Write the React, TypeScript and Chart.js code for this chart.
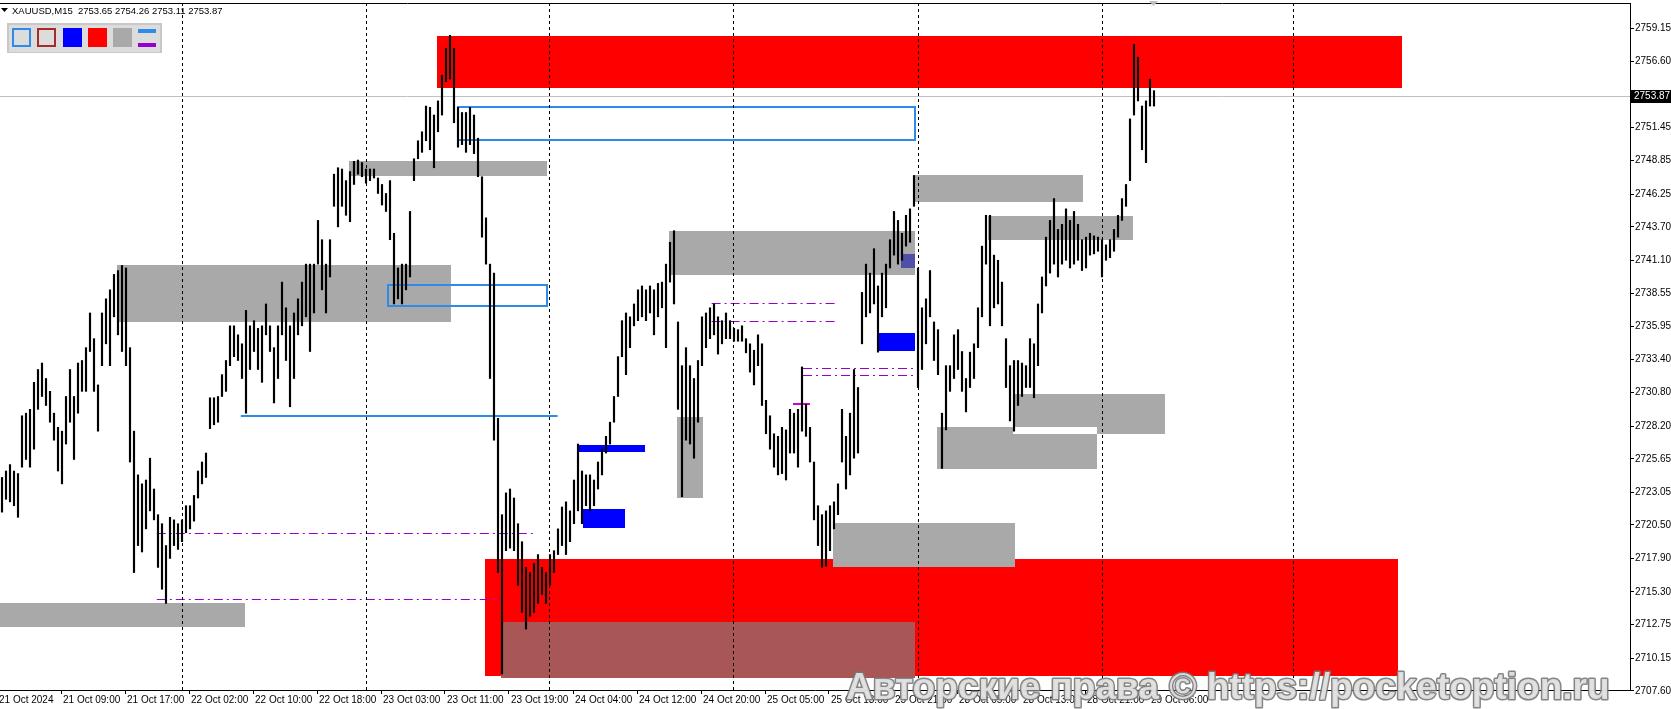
import React, { useEffect, useRef } from 'react';
import { Chart, registerables } from 'chart.js';

Chart.register(...registerables);

// ---- price data: one entry per 30 minutes (high / low) ----
const highs: number[] = [
  2724.2, 2724.7, 2725.2, 2724.7, 2724.5, 2729.0, 2729.2, 2729.5, 2731.6, 2732.6,
  2733.1, 2731.9, 2730.9, 2729.2, 2728.1, 2727.8, 2730.5, 2732.6, 2730.5, 2733.1,
  2733.3, 2734.3, 2737.0, 2735.0, 2731.4, 2737.0, 2738.1, 2738.8, 2740.0, 2740.3,
  2740.7, 2740.5, 2734.3, 2727.8, 2724.4, 2723.7, 2724.0, 2725.7, 2723.3, 2721.3,
  2720.6, 2718.9, 2721.1, 2720.9, 2720.6, 2720.9, 2722.0, 2722.0, 2722.8, 2724.7,
  2725.4, 2726.1, 2730.4, 2730.4, 2730.5, 2732.2, 2733.3, 2736.0, 2736.0, 2735.3,
  2734.6, 2737.2, 2736.0, 2736.4, 2735.8, 2736.0, 2737.7, 2736.0, 2734.3, 2736.0,
  2739.4, 2737.4, 2736.0, 2737.0, 2738.1, 2739.4, 2740.8, 2740.8, 2740.8, 2744.2,
  2742.7, 2740.8, 2742.7, 2747.8, 2748.3, 2748.2, 2747.3, 2748.0, 2748.8, 2748.9,
  2748.7, 2748.2, 2748.2, 2748.2, 2747.5, 2747.0, 2746.3, 2747.3, 2743.2, 2740.5,
  2740.8, 2740.8, 2744.9, 2749.0, 2750.4, 2751.1, 2753.1, 2753.0, 2752.4, 2753.5,
  2755.5, 2757.6, 2758.6, 2757.6, 2753.0, 2752.6, 2752.6, 2753.0, 2752.4, 2750.6,
  2747.6, 2744.4, 2740.8, 2740.1, 2728.8, 2721.3, 2723.0, 2723.3, 2722.6, 2720.6,
  2719.2, 2717.2, 2716.8, 2717.5, 2718.2, 2717.2, 2716.8, 2718.2, 2718.5, 2720.2,
  2721.9, 2722.3, 2721.6, 2724.0, 2726.8, 2724.7, 2724.4, 2724.4, 2724.0, 2725.4,
  2726.4, 2727.4, 2728.5, 2730.5, 2733.6, 2736.4, 2737.0, 2736.7, 2737.7, 2738.8,
  2739.1, 2738.8, 2739.1, 2738.8, 2739.3, 2739.4, 2740.8, 2742.5, 2743.4, 2736.3,
  2732.9, 2734.3, 2732.9, 2731.9, 2733.3, 2736.7, 2737.0, 2737.4, 2737.7, 2736.7,
  2736.4, 2737.0, 2736.4, 2735.8, 2735.7, 2736.0, 2735.0, 2734.6, 2734.1, 2735.3,
  2734.6, 2730.2, 2729.0, 2727.6, 2727.4, 2728.1, 2727.9, 2729.5, 2729.2, 2729.5,
  2732.8, 2729.9, 2728.1, 2725.4, 2722.0, 2721.3, 2721.6, 2722.0, 2722.3, 2723.7,
  2729.5, 2727.4, 2729.2, 2732.6, 2731.2, 2738.6, 2740.8, 2740.1, 2742.0, 2739.1,
  2740.1, 2740.8, 2742.7, 2744.9, 2744.2, 2743.2, 2744.6, 2745.1, 2747.7, 2740.5,
  2737.4, 2738.1, 2740.3, 2736.3, 2735.7, 2729.2, 2732.9, 2732.9, 2735.3, 2735.7,
  2734.0, 2731.9, 2733.95, 2734.6, 2737.4, 2742.2, 2744.6, 2744.6, 2741.5, 2741.1,
  2739.4, 2735.0, 2732.9, 2733.3, 2733.3, 2733.1, 2732.9, 2735.0, 2734.6, 2737.7,
  2739.8, 2742.9, 2744.2, 2745.9, 2743.5, 2743.9, 2745.1, 2744.2, 2744.9, 2743.9,
  2742.7, 2742.9, 2743.2, 2743.0, 2742.9, 2742.7, 2742.3, 2742.7, 2743.5, 2744.6,
  2745.9, 2747.0, 2752.1, 2757.9, 2756.9, 2753.1, 2753.5, 2755.2, 2754.3,
];
const lows: number[] = [
  2721.5, 2722.5, 2722.3, 2722.0, 2721.1, 2725.0, 2725.6, 2725.0, 2726.4, 2729.5,
  2730.5, 2729.8, 2728.5, 2727.1, 2724.7, 2723.7, 2726.8, 2728.5, 2725.6, 2729.2,
  2730.9, 2730.9, 2734.0, 2730.9, 2727.8, 2732.9, 2734.6, 2732.9, 2736.7, 2735.3,
  2734.0, 2732.9, 2725.4, 2716.8, 2718.9, 2718.4, 2720.2, 2721.6, 2720.9, 2717.2,
  2715.5, 2714.4, 2717.9, 2718.9, 2718.6, 2719.2, 2719.9, 2720.2, 2720.8, 2722.6,
  2723.7, 2724.2, 2728.0, 2728.3, 2728.5, 2730.5, 2730.9, 2732.9, 2733.6, 2733.3,
  2731.9, 2729.2, 2732.6, 2734.0, 2732.6, 2731.6, 2735.3, 2734.0, 2730.0, 2731.9,
  2735.3, 2733.3, 2729.7, 2731.9, 2735.3, 2736.0, 2736.7, 2734.0, 2737.0, 2740.8,
  2738.8, 2737.0, 2739.8, 2745.3, 2743.7, 2745.3, 2744.6, 2744.1, 2747.0, 2747.8,
  2747.6, 2747.1, 2747.3, 2747.5, 2746.3, 2745.4, 2744.9, 2742.7, 2737.7, 2738.1,
  2737.7, 2738.8, 2739.8, 2747.3, 2749.0, 2749.5, 2750.4, 2749.7, 2748.3, 2751.1,
  2752.4, 2755.0, 2755.2, 2751.8, 2749.9, 2750.1, 2749.5, 2750.1, 2749.4, 2747.6,
  2742.9, 2740.8, 2731.9, 2727.1, 2716.8, 2708.9, 2718.5, 2718.7, 2718.5, 2715.8,
  2713.7, 2712.4, 2713.4, 2713.7, 2714.4, 2715.1, 2714.4, 2715.8, 2716.8, 2718.2,
  2718.9, 2718.2, 2719.2, 2720.6, 2721.6, 2720.6, 2722.0, 2721.6, 2722.0, 2723.3,
  2724.4, 2726.1, 2726.8, 2728.5, 2730.5, 2733.6, 2732.2, 2734.3, 2736.0, 2736.4,
  2736.7, 2736.4, 2737.0, 2735.3, 2736.7, 2737.4, 2734.3, 2739.4, 2737.7, 2729.5,
  2722.7, 2727.1, 2726.8, 2725.7, 2728.5, 2732.9, 2734.3, 2735.0, 2735.3, 2733.8,
  2734.6, 2735.0, 2735.0, 2734.8, 2734.8, 2734.8, 2733.9, 2732.4, 2731.4, 2732.9,
  2729.8, 2727.6, 2726.4, 2725.0, 2724.4, 2724.5, 2724.0, 2726.1, 2726.1, 2725.0,
  2727.8, 2727.4, 2725.4, 2720.9, 2718.9, 2717.2, 2717.3, 2718.5, 2720.2, 2721.3,
  2725.4, 2723.3, 2724.4, 2725.7, 2726.1, 2734.6, 2736.7, 2737.0, 2737.7, 2733.95,
  2736.7, 2737.4, 2740.5, 2741.5, 2740.8, 2741.1, 2742.2, 2742.5, 2745.3, 2731.2,
  2732.6, 2734.6, 2736.7, 2733.3, 2732.2, 2724.9, 2727.9, 2730.9, 2731.9, 2732.6,
  2730.9, 2729.3, 2731.2, 2731.9, 2734.3, 2736.7, 2740.8, 2736.0, 2737.4, 2737.7,
  2736.0, 2731.2, 2728.6, 2727.8, 2729.8, 2730.5, 2731.2, 2731.2, 2730.4, 2732.9,
  2737.0, 2739.1, 2740.1, 2740.8, 2739.8, 2740.8, 2741.1, 2740.5, 2740.8, 2741.1,
  2740.3, 2740.5, 2741.5, 2741.6, 2741.8, 2739.8, 2741.1, 2741.3, 2741.8, 2742.9,
  2744.2, 2745.3, 2747.3, 2752.4, 2753.5, 2749.7, 2748.7, 2753.1, 2753.1,
];

// ---- axes ----
const priceTicks: number[] = [
  2759.15, 2756.6, 2751.45, 2748.85, 2746.25, 2743.7, 2741.1, 2738.55, 2735.95, 2733.4,
  2730.8, 2728.2, 2725.65, 2723.05, 2720.5, 2717.9, 2715.3, 2712.75, 2710.15, 2707.6,
];
const timeLabels: string[] = [
  '21 Oct 2024', '21 Oct 09:00', '21 Oct 17:00', '22 Oct 02:00', '22 Oct 10:00', '22 Oct 18:00',
  '23 Oct 03:00', '23 Oct 11:00', '23 Oct 19:00', '24 Oct 04:00', '24 Oct 12:00', '24 Oct 20:00',
  '25 Oct 05:00', '25 Oct 13:00', '25 Oct 21:00', '28 Oct 05:00', '28 Oct 13:00', '28 Oct 21:00',
  '29 Oct 06:00',
];
// slot index (30-minute slot) of each time label
const timeSlots: number[] = [
  -0.75, 15.25, 31.25, 47.25, 63.25, 79.25, 95.25, 111.25, 127.25, 143.25, 159.25, 175.25,
  191.25, 207.25, 223.25, 239.25, 255.25, 271.25, 287.25,
];
const daySeparators: number[] = [45.4, 91.4, 137.3, 183.3, 229.4, 275.4, 323.2];
const lastPrice = 2753.87;
const headerText = 'XAUUSD,M15  2753.65 2754.26 2753.11 2753.87';
const watermark = 'Авторские права © https://pocketoption.ru';

// ---- zones: [slotFrom, slotTo, priceLow, priceHigh] ----
const redZones: number[][] = [
  [109.2, 350.6, 2754.5, 2758.54],
  [121.25, 349.5, 2708.75, 2717.85],
];
const grayZones: number[][] = [
  [87.25, 136.7, 2747.65, 2748.85],
  [29.2, 112.75, 2736.28, 2740.73],
  [0, 61.25, 2712.54, 2714.43],
  [169.25, 175.7, 2722.58, 2728.88],
  [167.25, 228.75, 2739.94, 2743.37],
  [208.3, 253.75, 2717.27, 2720.66],
  [228.75, 270.7, 2745.6, 2747.72],
  [247.1, 283.2, 2742.69, 2744.57],
  [234.2, 274.2, 2724.87, 2728.13],
  [253.3, 291.25, 2727.6, 2730.7],
];
const whiteStrips: number[][] = [[253.3, 274.2, 2727.6, 2728.13]];
const brownZones: number[][] = [[125.25, 228.75, 2708.6, 2712.95]];
const blueZones: number[][] = [
  [144.3, 161.25, 2726.18, 2726.76],
  [145.8, 156.25, 2720.25, 2721.72],
  [219.8, 228.75, 2734.05, 2735.42],
];
const navyZones: number[][] = [[225.2, 228.75, 2740.46, 2741.59]];
const blueBoxes: number[][] = [
  [114.4, 228.75, 2750.46, 2753.03],
  [97.1, 136.8, 2737.55, 2739.16],
];
// [slotFrom, slotTo, price]
const blueLines: number[][] = [[60.2, 139.4, 2728.98]];
const purpleLines: number[][] = [
  [39.2, 133.25, 2719.9],
  [39.2, 125.25, 2714.77],
  [177.9, 209.2, 2737.79],
  [177.9, 209.2, 2736.35],
  [200.75, 228.75, 2732.75],
  [200.75, 228.75, 2732.17],
];
const magentaLines: number[][] = [[198.25, 202.5, 2729.94]];

const FONT = '"Liberation Sans", Arial, sans-serif';

const overlayPlugin = {
  id: 'mtOverlay',
  beforeDatasetsDraw(chart: any) {
    const { ctx, chartArea } = chart;
    const xs = chart.scales.x;
    const ys = chart.scales.y;
    const rect = (z: number[], color: string) => {
      const x1 = Math.round(xs.getPixelForValue(z[0]));
      const x2 = Math.round(xs.getPixelForValue(z[1]));
      const y1 = Math.round(ys.getPixelForValue(z[3]));
      const y2 = Math.round(ys.getPixelForValue(z[2]));
      ctx.fillStyle = color;
      ctx.fillRect(x1, y1, x2 - x1, y2 - y1);
    };
    ctx.save();
    ctx.beginPath();
    ctx.rect(chartArea.left, chartArea.top, chartArea.right - chartArea.left, chartArea.bottom - chartArea.top);
    ctx.clip();
    redZones.forEach((z) => rect(z, '#ff0000'));
    grayZones.forEach((z) => rect(z, '#a9a9a9'));
    whiteStrips.forEach((z) => rect(z, '#ffffff'));
    brownZones.forEach((z) => rect(z, '#a85656'));
    blueZones.forEach((z) => rect(z, '#0000ff'));
    navyZones.forEach((z) => rect(z, '#4f4fa8'));

    ctx.strokeStyle = '#2d8ceb';
    ctx.lineWidth = 2;
    blueBoxes.forEach((z) => {
      const x1 = Math.round(xs.getPixelForValue(z[0]));
      const x2 = Math.round(xs.getPixelForValue(z[1]));
      const y1 = Math.round(ys.getPixelForValue(z[3]));
      const y2 = Math.round(ys.getPixelForValue(z[2]));
      ctx.strokeRect(x1, y1, x2 - x1, y2 - y1);
    });
    blueLines.forEach((l) => {
      const y = Math.round(ys.getPixelForValue(l[2]));
      ctx.beginPath();
      ctx.moveTo(xs.getPixelForValue(l[0]), y);
      ctx.lineTo(xs.getPixelForValue(l[1]), y);
      ctx.stroke();
    });

    ctx.strokeStyle = '#9400d3';
    ctx.lineWidth = 1;
    ctx.setLineDash([9, 4, 2, 4]);
    purpleLines.forEach((l) => {
      const y = Math.round(ys.getPixelForValue(l[2])) + 0.5;
      ctx.beginPath();
      ctx.moveTo(xs.getPixelForValue(l[0]), y);
      ctx.lineTo(xs.getPixelForValue(l[1]), y);
      ctx.stroke();
    });
    ctx.setLineDash([]);
    ctx.strokeStyle = '#d000d0';
    ctx.lineWidth = 2;
    magentaLines.forEach((l) => {
      const y = Math.round(ys.getPixelForValue(l[2]));
      ctx.beginPath();
      ctx.moveTo(xs.getPixelForValue(l[0]), y);
      ctx.lineTo(xs.getPixelForValue(l[1]), y);
      ctx.stroke();
    });

    // day separators
    ctx.strokeStyle = '#000000';
    ctx.lineWidth = 1;
    ctx.setLineDash([3, 3]);
    daySeparators.forEach((s) => {
      const x = Math.round(xs.getPixelForValue(s)) + 0.5;
      ctx.beginPath();
      ctx.moveTo(x, chartArea.top);
      ctx.lineTo(x, chartArea.bottom);
      ctx.stroke();
    });
    ctx.setLineDash([]);

    // last price line
    const yp = Math.round(ys.getPixelForValue(lastPrice)) + 0.5;
    ctx.strokeStyle = '#c0c0c0';
    ctx.beginPath();
    ctx.moveTo(chartArea.left, yp);
    ctx.lineTo(chartArea.right, yp);
    ctx.stroke();
    ctx.restore();
  },
  afterDraw(chart: any) {
    const { ctx, chartArea } = chart;
    const ys = chart.scales.y;
    ctx.save();
    // top frame
    ctx.strokeStyle = '#000';
    ctx.lineWidth = 1;
    ctx.beginPath();
    ctx.moveTo(0, chartArea.top + 0.5);
    ctx.lineTo(chartArea.right, chartArea.top + 0.5);
    ctx.stroke();

    // header
    ctx.fillStyle = '#000';
    ctx.beginPath();
    ctx.moveTo(1, 8);
    ctx.lineTo(8, 8);
    ctx.lineTo(4.5, 12);
    ctx.closePath();
    ctx.fill();
    ctx.font = '9.5px ' + FONT;
    ctx.textBaseline = 'middle';
    ctx.textAlign = 'left';
    ctx.fillText(headerText, 12, 11);

    // toolbar panel
    ctx.fillStyle = '#c8c8c8';
    ctx.fillRect(7, 23, 155, 30);
    ctx.fillStyle = '#dcdcdc';
    ctx.fillRect(9, 25, 151, 27);
    const sq = (x: number, fill: string, border?: string) => {
      ctx.fillStyle = fill;
      ctx.fillRect(x, 28, 19, 19);
      if (border) {
        ctx.strokeStyle = border;
        ctx.lineWidth = 2;
        ctx.strokeRect(x + 1, 29, 17, 17);
      }
    };
    sq(12, '#dcdcdc', '#2d8ceb');
    sq(37, '#dcdcdc', '#a52a2a');
    sq(63, '#0000ff');
    sq(88, '#ff0000');
    sq(113, '#a9a9a9');
    ctx.fillStyle = '#2d8ceb';
    ctx.fillRect(138, 29, 18, 4);
    ctx.fillStyle = '#9400d3';
    ctx.fillRect(138, 43, 18, 4);

    // top shift marker
    ctx.fillStyle = '#c0c0c0';
    ctx.beginPath();
    ctx.moveTo(1149, 1);
    ctx.lineTo(1158, 1);
    ctx.lineTo(1153.5, 6);
    ctx.closePath();
    ctx.fill();

    // last price label
    const yp = Math.round(ys.getPixelForValue(lastPrice));
    ctx.fillStyle = '#000';
    ctx.fillRect(chartArea.right + 1, yp - 6, 40, 13);
    ctx.fillStyle = '#fff';
    ctx.font = '10px ' + FONT;
    ctx.textBaseline = 'middle';
    ctx.fillText(lastPrice.toFixed(2), chartArea.right + 4, yp + 0.5);

    // watermark
    ctx.font = 'bold 37px ' + FONT;
    ctx.textBaseline = 'alphabetic';
    ctx.lineJoin = 'round';
    ctx.lineWidth = 3;
    ctx.strokeStyle = 'rgba(120,120,120,0.9)';
    ctx.strokeText(watermark, 846, 699);
    ctx.fillStyle = 'rgba(225,225,225,0.95)';
    ctx.fillText(watermark, 846, 699);
    ctx.restore();
  },
};

export default function App() {
  const ref = useRef<HTMLCanvasElement>(null);
  useEffect(() => {
    document.body.style.margin = '0';
    const canvas = ref.current;
    if (!canvas) return;
    const data = highs.map((h, i) => ({ x: i + 0.5, y: [lows[i], h] }));
    const tickFont = { family: FONT, size: 10 };
    const chart = new Chart(canvas, {
      type: 'bar',
      data: {
        datasets: [
          {
            data: data as any,
            backgroundColor: '#000000',
            borderWidth: 0,
            barThickness: 1.5,
            grouped: false,
          } as any,
        ],
      },
      options: {
        animation: false,
        responsive: false,
        maintainAspectRatio: false,
        layout: { padding: { top: 3, left: 0, right: 0, bottom: 0 } },
        plugins: { legend: { display: false }, tooltip: { enabled: false } },
        scales: {
          x: {
            type: 'linear',
            min: 0,
            max: 407.5,
            offset: false,
            grid: { display: true, drawOnChartArea: false, drawTicks: true, tickLength: 4, color: '#000', offset: false },
            border: { display: true, color: '#000', width: 1 },
            afterBuildTicks: (s: any) => {
              s.ticks = timeSlots.map((v) => ({ value: v }));
            },
            afterFit: (s: any) => {
              s.height = 19;
              s.paddingLeft = 0;
              s.paddingRight = 0;
            },
            ticks: {
              autoSkip: false,
              maxRotation: 0,
              minRotation: 0,
              align: 'start',
              padding: 0,
              labelOffset: 2,
              color: '#000',
              font: tickFont,
              callback: (_v: any, i: number) => timeLabels[i],
            },
          } as any,
          y: {
            type: 'linear',
            position: 'right',
            min: 2707.66,
            max: 2761.12,
            grid: { display: true, drawOnChartArea: false, drawTicks: true, tickLength: 4, color: '#000' },
            border: { display: true, color: '#000', width: 1 },
            afterBuildTicks: (s: any) => {
              s.ticks = priceTicks.map((v) => ({ value: v }));
            },
            afterFit: (s: any) => {
              s.width = 41;
              s.paddingTop = 0;
              s.paddingBottom = 0;
            },
            ticks: {
              autoSkip: false,
              padding: 1,
              color: '#000',
              font: tickFont,
              callback: (v: any) => Number(v).toFixed(2),
            },
          } as any,
        },
      },
      plugins: [overlayPlugin],
    });
    return () => chart.destroy();
  }, []);
  return <canvas ref={ref} width={1671} height={709} style={{ display: 'block' }} />;
}
